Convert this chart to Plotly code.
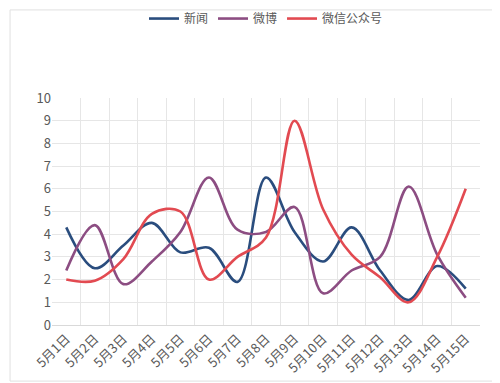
import plotly.graph_objects as go

categories = ["5月1日", "5月2日", "5月3日", "5月4日", "5月5日", "5月6日", "5月7日", "5月8日",
              "5月9日", "5月10日", "5月11日", "5月12日", "5月13日", "5月14日", "5月15日"]
news = [4.3, 2.5, 3.5, 4.5, 3.2, 3.4, 1.9, 6.5, 4.1, 2.8, 4.3, 2.4, 1.1, 2.6, 1.6]
weibo = [2.4, 4.4, 1.8, 2.8, 4.1, 6.5, 4.2, 4.1, 5.2, 1.4, 2.4, 3.0, 6.1, 3.1, 1.2]
wechat = [2.0, 1.95, 2.9, 4.9, 5.0, 2.0, 3.0, 3.85, 9.0, 5.1, 3.1, 2.1, 1.0, 3.0, 6.0]

series = [("新闻", news, "#2A4D7E"), ("微博", weibo, "#8C4D82"), ("微信公众号", wechat, "#E24A51")]

fig = go.Figure()
for name, vals, color in series:
    fig.add_trace(go.Scatter(x=categories, y=vals, name=name, mode="lines",
                             line=dict(color=color, width=2.6, shape="spline", smoothing=1.0)))

font = "Noto Sans CJK SC, Microsoft YaHei, sans-serif"
fig.update_layout(
    width=500, height=383,
    margin=dict(l=44, r=28, t=90, b=66, autoexpand=False),
    paper_bgcolor="white", plot_bgcolor="white",
    font=dict(family=font, size=12, color="#595959"),
    showlegend=True,
    legend=dict(orientation="h", x=0.5, xanchor="center", y=1.35, yanchor="middle",
                bgcolor="rgba(0,0,0,0)",
                font=dict(size=12, color="#595959"), itemwidth=30, tracegroupgap=0),
    xaxis=dict(type="category", range=[-0.5, 14.5], tickangle=-45, showgrid=True, gridcolor="#E6E6E6",
               tickson="boundaries", ticks="", showline=True, linecolor="#D9D9D9", automargin=False,
               tickfont=dict(size=13, color="#595959"), zeroline=False),
    yaxis=dict(range=[0, 10], dtick=1, showgrid=True, gridcolor="#E6E6E6", zeroline=False, automargin=False,
               ticks="", showline=False, tickfont=dict(size=13, color="#595959")),
    shapes=[dict(type="rect", xref="paper", yref="paper", x0=-0.098, x1=1.054,
                 y0=-0.247, y1=1.388, line=dict(color="#E0E0E0", width=1))],
)

fig.write_html("out.html")
